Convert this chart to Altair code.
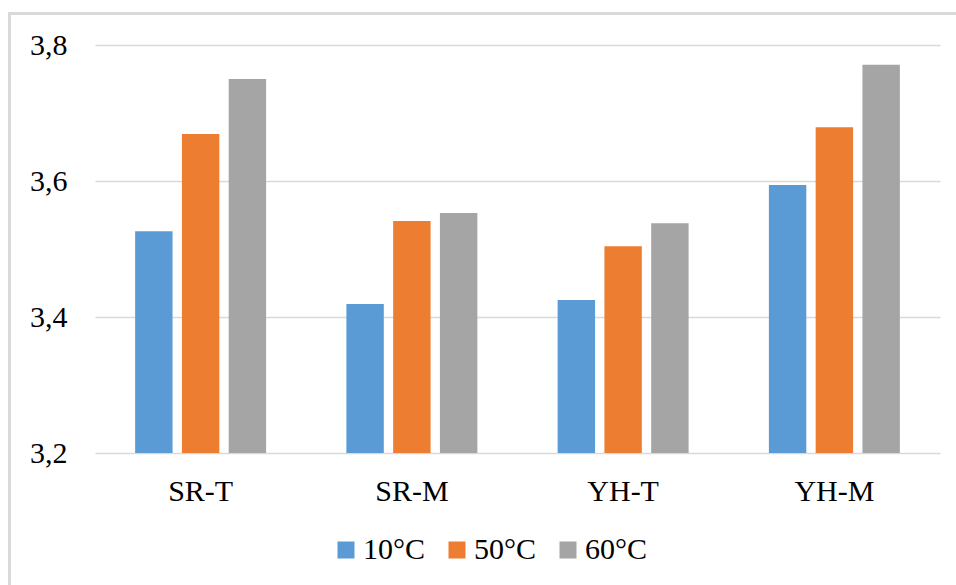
import altair as alt
import pandas as pd

# Samples and measurement temperatures
categories = ["SR-T", "SR-M", "YH-T", "YH-M"]
temperatures = ["10°C", "50°C", "60°C"]

# Measured values per temperature, in category order
values_10 = [3.526, 3.419, 3.425, 3.594]
values_50 = [3.669, 3.541, 3.504, 3.679]
values_60 = [3.750, 3.553, 3.538, 3.771]

colors = ["#5B9BD5", "#ED7D31", "#A5A5A5"]
font = "Liberation Serif"
axis_base = 3.2

rows = []
for temp, series in zip(temperatures, [values_10, values_50, values_60]):
    for cat, v in zip(categories, series):
        rows.append({"sample": cat, "temp": temp, "value": v, "base": axis_base})
df = pd.DataFrame(rows)

bars = alt.Chart(df).mark_bar().encode(
    x=alt.X(
        "sample:N",
        sort=categories,
        scale=alt.Scale(paddingInner=0.38, paddingOuter=0.19),
        axis=alt.Axis(
            title=None, labelAngle=0, ticks=False, domain=False, grid=False,
            labelFont=font, labelFontSize=30, labelColor="#000000", labelPadding=23,
        ),
    ),
    xOffset=alt.XOffset(
        "temp:N", sort=temperatures,
        scale=alt.Scale(paddingInner=0.2, paddingOuter=0),
    ),
    y=alt.Y(
        "value:Q",
        scale=alt.Scale(domain=[3.2, 3.8], zero=False, nice=False),
        axis=alt.Axis(
            title=None, values=[3.2, 3.4, 3.6, 3.8], ticks=False, domain=False,
            labelExpr="replace(format(datum.value, '.1f'), '.', ',')",
            labelFont=font, labelFontSize=30, labelColor="#000000", labelPadding=28,
            gridColor="#d9d9d9", gridWidth=1.5,
        ),
    ),
    y2="base:Q",
    color=alt.Color(
        "temp:N", sort=temperatures,
        scale=alt.Scale(domain=temperatures, range=colors),
        legend=alt.Legend(
            title=None, orient="none", direction="horizontal", columns=3,
            legendX=236, legendY=490,
            symbolType="square", symbolSize=289, symbolStrokeWidth=0,
            labelFont=font, labelFontSize=30, labelColor="#000000",
            labelOffset=2, columnPadding=16,
        ),
    ),
)

# Light frame around the whole figure
frame = alt.Chart(df).mark_rect(
    filled=False, stroke="#d9d9d9", strokeWidth=2
).encode(
    x=alt.value(-85.5), x2=alt.value(1000),
    y=alt.value(-31.5), y2=alt.value(700),
)

chart = alt.layer(bars, frame).properties(
    width=845,
    height=408,
    autosize=alt.AutoSizeParams(type="none"),
    padding={"left": 95, "top": 45, "right": 16, "bottom": 132},
).configure(
    background="white", font=font
).configure_view(
    strokeWidth=0, stroke="transparent"
)

chart.save("out.html", embed_options={"renderer": "svg", "actions": False})
